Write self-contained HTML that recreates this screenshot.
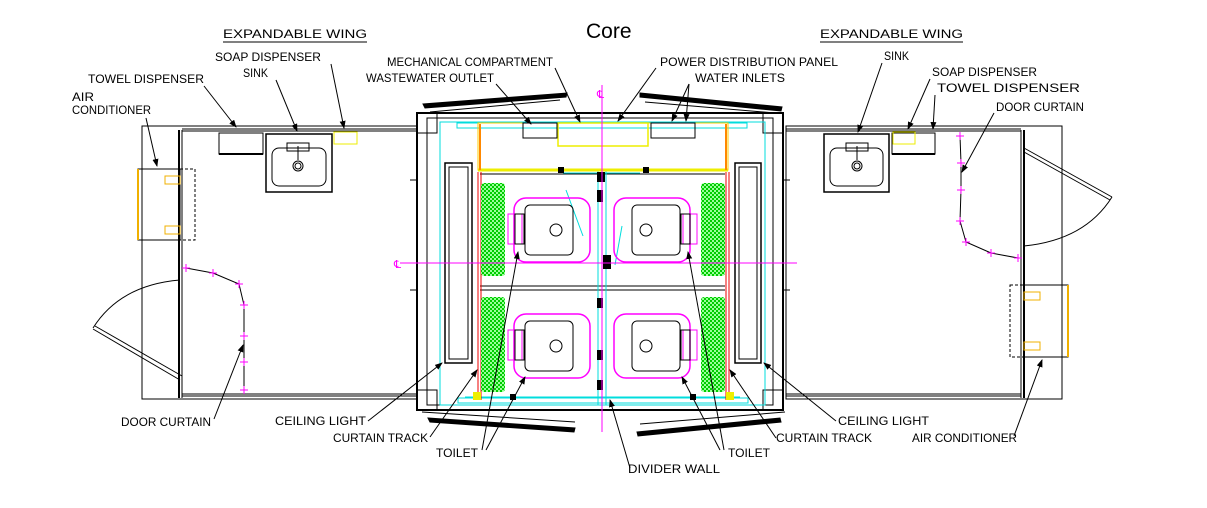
<!DOCTYPE html>
<html><head><meta charset="utf-8"><style>
html,body{margin:0;padding:0;background:#fff;}
svg{display:block}
text{font-family:"Liberation Sans",sans-serif;font-size:12px;fill:#000;}
</style></head><body>
<svg width="1207" height="508" viewBox="0 0 1207 508" xmlns="http://www.w3.org/2000/svg">
<defs>
<marker id="a" markerWidth="8" markerHeight="8" refX="7" refY="3" orient="auto" markerUnits="userSpaceOnUse"><path d="M0,0 L8,3 L0,6 z" fill="#000"/></marker>
<pattern id="h" width="4" height="4" patternUnits="userSpaceOnUse"><rect width="4" height="4" fill="#0c0"/><rect width="2" height="2" fill="#9f9"/><rect x="2" y="2" width="2" height="2" fill="#9f9"/></pattern>
</defs>

<text x="586" y="38" style="font-family:'Liberation Sans',sans-serif;font-size:21px">Core</text>
<text x="223" y="38" textLength="144" lengthAdjust="spacingAndGlyphs">EXPANDABLE WING</text>
<line x1="223" y1="42" x2="367" y2="42" stroke="#000"/>
<text x="820" y="38" textLength="143" lengthAdjust="spacingAndGlyphs">EXPANDABLE WING</text>
<line x1="820" y1="42" x2="963" y2="42" stroke="#000"/>

<g fill="none" stroke="#000">
<rect x="142" y="126" width="275" height="273"/>
<line x1="179" y1="130" x2="179" y2="398" stroke-width="2"/>
<line x1="182" y1="130" x2="182" y2="398"/>
<line x1="182" y1="129" x2="417" y2="129"/>
<line x1="182" y1="131" x2="417" y2="131"/>
<line x1="182" y1="394" x2="417" y2="394"/>
<line x1="182" y1="396" x2="417" y2="396"/>
<rect x="138" y="169" width="42" height="71"/>
<rect x="180" y="169" width="15" height="71" stroke-dasharray="3,2"/>
<line x1="138" y1="169" x2="138" y2="240" stroke="#f0b000" stroke-width="2"/>
<rect x="165" y="176" width="15" height="8" stroke="#f0b000"/>
<rect x="165" y="226" width="15" height="8" stroke="#f0b000"/>
<rect x="219" y="133" width="44" height="21"/>
<line x1="219" y1="154" x2="263" y2="154" stroke-width="2"/>
<rect x="266" y="134" width="66" height="58" stroke-width="1.5"/>
<rect x="272" y="148" width="54" height="38" rx="7"/>
<rect x="287" y="143" width="22" height="8"/>
<circle cx="298" cy="166" r="5"/><circle cx="298" cy="166" r="3"/>
<line x1="298" y1="146" x2="298" y2="160"/>
<rect x="334" y="132" width="23" height="12" stroke="#ee0"/>
<line x1="180" y1="380" x2="93" y2="329"/>
<line x1="182" y1="376" x2="95" y2="326"/>
<path d="M93 328 Q120 285 180 280"/>
<polyline points="186,268 213,273 239,284 244,305 244,336 244,362 244,390"/>
</g>
<g stroke="#f0f" fill="none">
<path d="M182,268h8M186,264v8 M209,273h8M213,269v8 M235,284h8M239,280v8 M240,305h8M244,301v8 M240,336h8M244,332v8 M240,362h8M244,358v8 M240,390h8M244,386v8"/>
</g>

<g fill="none" stroke="#000">
<rect x="786" y="126" width="276" height="273"/>
<line x1="1024" y1="130" x2="1024" y2="398" stroke-width="2"/>
<line x1="1021" y1="130" x2="1021" y2="398"/>
<line x1="786" y1="129" x2="1021" y2="129"/>
<line x1="786" y1="131" x2="1021" y2="131"/>
<line x1="786" y1="394" x2="1021" y2="394"/>
<line x1="786" y1="396" x2="1021" y2="396"/>
<rect x="1024" y="285" width="44" height="72"/>
<rect x="1010" y="285" width="14" height="72" stroke-dasharray="3,2"/>
<line x1="1068" y1="285" x2="1068" y2="357" stroke="#f0b000" stroke-width="2"/>
<rect x="1024" y="292" width="16" height="8" stroke="#f0b000"/>
<rect x="1024" y="342" width="16" height="8" stroke="#f0b000"/>
<rect x="892" y="133" width="43" height="21"/>
<line x1="892" y1="154" x2="935" y2="154" stroke-width="2"/>
<rect x="893" y="132" width="22" height="12" stroke="#ee0"/>
<rect x="824" y="134" width="65" height="58" stroke-width="1.5"/>
<rect x="830" y="148" width="53" height="38" rx="7"/>
<rect x="846" y="143" width="22" height="8"/>
<circle cx="857" cy="166" r="5"/><circle cx="857" cy="166" r="3"/>
<line x1="857" y1="146" x2="857" y2="160"/>
<line x1="1024" y1="148" x2="1112" y2="197"/>
<line x1="1024" y1="152" x2="1110" y2="200"/>
<path d="M1112 197 Q1085 240 1024 246"/>
<polyline points="960,136 961,163 961,190 960,221 966,242 991,253 1018,258"/>
</g>
<g stroke="#f0f" fill="none">
<path d="M956,136h8M960,132v8 M957,163h8M961,159v8 M957,190h8M961,186v8 M956,221h8M960,217v8 M962,242h8M966,238v8 M987,253h8M991,249v8 M1014,258h8M1018,254v8"/>
</g>

<g fill="none" stroke="#000">
<path d="M423,104 L567,93 L566,97 L425,108 Z" fill="#000"/>
<path d="M430,112 L560,100"/>
<path d="M640,93 L782,107 L781,111 L640,97 Z" fill="#000"/>
<path d="M645,102 L775,113"/>
<path d="M428,418 L575,428 L574,432 L430,422 Z" fill="#000"/>
<path d="M422,412 L575,422"/>
<path d="M637,432 L780,418 L781,422 L638,436 Z" fill="#000"/>
<path d="M640,424 L785,412"/>
<rect x="417" y="113" width="366" height="297" stroke-width="2"/>
<rect x="427" y="118" width="346" height="287"/>
<rect x="417" y="113" width="20" height="20"/><rect x="763" y="113" width="20" height="20"/>
<rect x="417" y="390" width="20" height="20"/><rect x="763" y="390" width="20" height="20"/>
<rect x="445" y="163" width="27" height="200" stroke-width="1.5"/>
<rect x="449" y="167" width="19" height="192"/>
<rect x="735" y="163" width="26" height="200" stroke-width="1.5"/>
<rect x="739" y="167" width="18" height="192"/>
<line x1="480" y1="174" x2="725" y2="174"/>
<line x1="480" y1="286" x2="725" y2="286"/>
<line x1="480" y1="290" x2="725" y2="290"/>
<line x1="410" y1="180" x2="417" y2="180"/><line x1="410" y1="290" x2="417" y2="290"/>
<line x1="783" y1="180" x2="790" y2="180"/><line x1="783" y1="290" x2="790" y2="290"/>
</g>
<g fill="none" stroke="#0dd">
<rect x="440" y="122" width="325" height="283"/>
<rect x="457" y="123" width="290" height="5"/>
<rect x="458" y="398" width="290" height="5"/>
<line x1="598" y1="170" x2="598" y2="405"/>
<line x1="606" y1="170" x2="606" y2="405"/>
<line x1="566" y1="190" x2="583" y2="236"/>
<line x1="622" y1="226" x2="615" y2="265"/>
<line x1="465" y1="397" x2="740" y2="397"/>
<line x1="563" y1="173" x2="640" y2="173"/>
</g>
<g fill="none">
<rect x="478" y="123" width="250" height="47" stroke="#fc0"/>
<line x1="478" y1="170" x2="728" y2="170" stroke="#ee0" stroke-width="3"/>
<rect x="558" y="123" width="90" height="23" stroke="#ee0" stroke-width="1.5"/>
<rect x="523" y="123" width="34" height="15" stroke="#000"/>
<rect x="651" y="123" width="44" height="15" stroke="#000"/>
<line x1="480" y1="124" x2="480" y2="170" stroke="#f80" stroke-width="2"/>
<line x1="726" y1="124" x2="726" y2="170" stroke="#f80" stroke-width="2"/>
</g>
<g stroke="#e00">
<line x1="478" y1="172" x2="478" y2="400"/><line x1="481" y1="172" x2="481" y2="400"/>
<line x1="726" y1="172" x2="726" y2="400"/><line x1="729" y1="172" x2="729" y2="400"/>
</g>
<rect x="481" y="183" width="24" height="93" rx="3" fill="url(#h)"/>
<rect x="481" y="297" width="24" height="95" rx="3" fill="url(#h)"/>
<rect x="701" y="183" width="24" height="93" rx="3" fill="url(#h)"/>
<rect x="701" y="297" width="24" height="95" rx="3" fill="url(#h)"/>
<g fill="none">
<g stroke="#f0f" stroke-width="1.5">
<rect x="514" y="198" width="76" height="64" rx="12"/>
<rect x="614" y="198" width="76" height="64" rx="12"/>
<rect x="514" y="314" width="76" height="64" rx="12"/>
<rect x="614" y="314" width="76" height="64" rx="12"/>
</g>
<g stroke="#f0f">
<rect x="508" y="214" width="14" height="30"/><rect x="683" y="214" width="14" height="30"/>
<rect x="508" y="330" width="14" height="30"/><rect x="683" y="330" width="14" height="30"/>
</g>
<g stroke="#000">
<rect x="525" y="205" width="48" height="50" rx="5"/>
<rect x="632" y="205" width="48" height="50" rx="5"/>
<rect x="525" y="321" width="48" height="50" rx="5"/>
<rect x="632" y="321" width="48" height="50" rx="5"/>
<rect x="515" y="214" width="9" height="30"/><rect x="681" y="214" width="9" height="30"/>
<rect x="515" y="330" width="9" height="30"/><rect x="681" y="330" width="9" height="30"/>
<circle cx="556" cy="230" r="6"/><circle cx="646" cy="230" r="6"/>
<circle cx="556" cy="346" r="6"/><circle cx="646" cy="346" r="6"/>
</g>
</g>
<g fill="#000">
<rect x="597" y="172" width="8" height="10"/><rect x="597" y="190" width="6" height="12"/>
<rect x="603" y="255" width="8" height="14"/><rect x="597" y="298" width="6" height="10"/>
<rect x="597" y="350" width="6" height="10"/><rect x="597" y="380" width="6" height="10"/>
<rect x="558" y="167" width="6" height="6"/><rect x="643" y="167" width="6" height="6"/>
<rect x="510" y="394" width="6" height="6"/><rect x="690" y="394" width="6" height="6"/>
</g>
<rect x="473" y="392" width="8" height="8" fill="#ee0"/>
<rect x="726" y="392" width="8" height="8" fill="#ee0"/>
<g stroke="#f0f">
<line x1="602" y1="85" x2="602" y2="432"/>
<line x1="400" y1="263" x2="797" y2="263"/>
</g>
<text x="597" y="98" style="fill:#f0f;font-size:11px">&#8452;</text>
<text x="394" y="268" style="fill:#f0f;font-size:11px">&#8452;</text>

<g>
<text x="215" y="61" textLength="106" lengthAdjust="spacingAndGlyphs">SOAP DISPENSER</text>
<text x="243" y="77" textLength="25" lengthAdjust="spacingAndGlyphs">SINK</text>
<text x="88" y="83" textLength="116" lengthAdjust="spacingAndGlyphs">TOWEL DISPENSER</text>
<text x="72" y="101" textLength="22" lengthAdjust="spacingAndGlyphs">AIR</text>
<text x="72" y="114" textLength="79" lengthAdjust="spacingAndGlyphs">CONDITIONER</text>
<text x="387" y="66" textLength="166" lengthAdjust="spacingAndGlyphs">MECHANICAL COMPARTMENT</text>
<text x="366" y="82" textLength="128" lengthAdjust="spacingAndGlyphs">WASTEWATER OUTLET</text>
<text x="660" y="66" textLength="178" lengthAdjust="spacingAndGlyphs">POWER DISTRIBUTION PANEL</text>
<text x="695" y="82" textLength="90" lengthAdjust="spacingAndGlyphs">WATER INLETS</text>
<text x="884" y="60" textLength="25" lengthAdjust="spacingAndGlyphs">SINK</text>
<text x="932" y="76" textLength="105" lengthAdjust="spacingAndGlyphs">SOAP DISPENSER</text>
<text x="937" y="92" textLength="143" lengthAdjust="spacingAndGlyphs">TOWEL DISPENSER</text>
<text x="996" y="111" textLength="88" lengthAdjust="spacingAndGlyphs">DOOR CURTAIN</text>
<text x="121" y="426" textLength="90" lengthAdjust="spacingAndGlyphs">DOOR CURTAIN</text>
<text x="275" y="425" textLength="91" lengthAdjust="spacingAndGlyphs">CEILING LIGHT</text>
<text x="333" y="442" textLength="95" lengthAdjust="spacingAndGlyphs">CURTAIN TRACK</text>
<text x="436" y="457" textLength="42" lengthAdjust="spacingAndGlyphs">TOILET</text>
<text x="628" y="473" textLength="92" lengthAdjust="spacingAndGlyphs">DIVIDER WALL</text>
<text x="728" y="457" textLength="42" lengthAdjust="spacingAndGlyphs">TOILET</text>
<text x="776" y="442" textLength="96" lengthAdjust="spacingAndGlyphs">CURTAIN TRACK</text>
<text x="838" y="425" textLength="91" lengthAdjust="spacingAndGlyphs">CEILING LIGHT</text>
<text x="912" y="442" textLength="105" lengthAdjust="spacingAndGlyphs">AIR CONDITIONER</text>
</g>
<g stroke="#000" fill="none" marker-end="url(#a)">
<line x1="204" y1="86" x2="236" y2="127"/>
<line x1="276" y1="80" x2="297" y2="131"/>
<line x1="331" y1="64" x2="344" y2="128"/>
<line x1="146" y1="118" x2="157" y2="166"/>
<line x1="214" y1="419" x2="243" y2="345"/>
<line x1="555" y1="68" x2="580" y2="122"/>
<line x1="496" y1="84" x2="531" y2="124"/>
<line x1="656" y1="68" x2="618" y2="121"/>
<line x1="689" y1="84" x2="672" y2="121"/>
<line x1="689" y1="84" x2="686" y2="121"/>
<line x1="882" y1="63" x2="858" y2="132"/>
<line x1="930" y1="79" x2="908" y2="129"/>
<line x1="935" y1="95" x2="933" y2="129"/>
<line x1="994" y1="113" x2="962" y2="172"/>
<line x1="368" y1="421" x2="442" y2="363"/>
<line x1="430" y1="437" x2="477" y2="370"/>
<line x1="482" y1="450" x2="518" y2="252"/>
<line x1="486" y1="450" x2="525" y2="377"/>
<line x1="630" y1="468" x2="610" y2="400"/>
<line x1="724" y1="450" x2="688" y2="252"/>
<line x1="720" y1="450" x2="682" y2="377"/>
<line x1="776" y1="438" x2="730" y2="370"/>
<line x1="836" y1="421" x2="764" y2="363"/>
<line x1="1014" y1="436" x2="1042" y2="360"/>
</g>
</svg>
</body></html>
